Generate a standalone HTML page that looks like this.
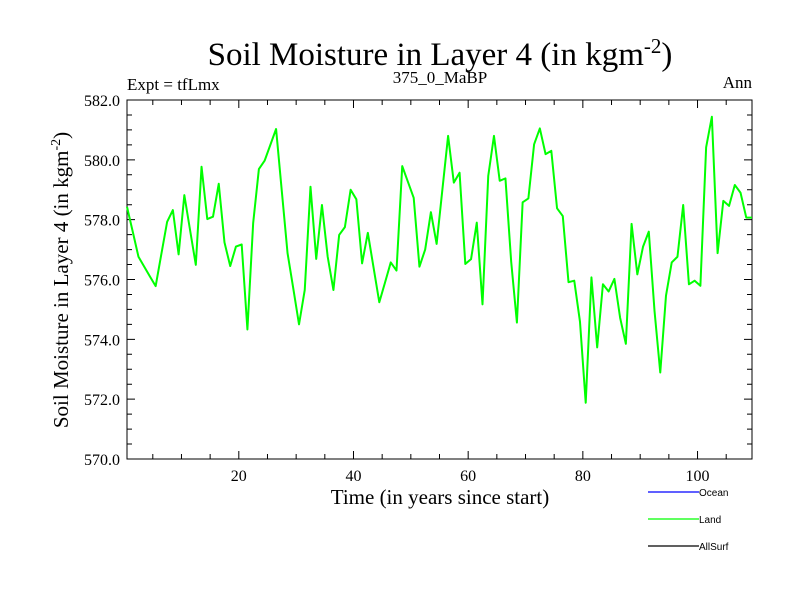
<!DOCTYPE html>
<html><head><meta charset="utf-8"><style>
body{margin:0;background:#fff}
svg text{font-family:"Liberation Serif",serif;fill:#000}
</style></head><body>
<svg id="chart" width="800" height="600" viewBox="0 0 800 600" xmlns="http://www.w3.org/2000/svg">
<rect width="800" height="600" fill="#fff"/>
<text x="440" y="65" font-size="33" text-anchor="middle">Soil Moisture in Layer 4 (in kgm<tspan dy="-12" font-size="21">-2</tspan><tspan dy="12">)</tspan></text>
<text x="127" y="90" font-size="17">Expt = tfLmx</text>
<text x="440" y="83" font-size="17" text-anchor="middle">375_0_MaBP</text>
<text x="752" y="88" font-size="17" text-anchor="end">Ann</text>
<text transform="translate(68,280) rotate(-90)" font-size="21" text-anchor="middle">Soil Moisture in Layer 4 (in kgm<tspan dy="-8" font-size="14">-2</tspan><tspan dy="8">)</tspan></text>
<text x="440" y="504" font-size="21" text-anchor="middle">Time (in years since start)</text>
<g id="axes"></g>
<g id="series"></g>
<g>
<line x1="648" y1="492" x2="699" y2="492" stroke="#0000ff" stroke-width="1.3"/>
<text x="699" y="496" font-size="10" style="font-family:'Liberation Sans',sans-serif">Ocean</text>
<line x1="648" y1="519" x2="699" y2="519" stroke="#00ff00" stroke-width="1.3"/>
<text x="699" y="523" font-size="10" style="font-family:'Liberation Sans',sans-serif">Land</text>
<line x1="648" y1="546" x2="699" y2="546" stroke="#000" stroke-width="1.3"/>
<text x="699" y="550" font-size="10" style="font-family:'Liberation Sans',sans-serif">AllSurf</text>
</g>
</svg>
<script>
const landValues = [578.43,577.6,576.76,576.43,576.1,575.78,576.86,577.93,578.32,576.84,
578.82,577.65,576.49,579.77,578.02,578.1,579.2,577.24,576.45,577.1,
577.17,574.33,577.88,579.69,579.97,580.5,581.03,578.95,576.88,575.7,
574.5,575.65,579.1,576.69,578.49,576.76,575.65,577.49,577.75,579.0,
578.68,576.54,577.56,576.4,575.24,575.9,576.57,576.3,579.79,579.26,
578.73,576.43,577.0,578.25,577.19,579.0,580.8,579.24,579.57,576.52,
576.68,577.9,575.17,579.46,580.8,579.3,579.38,576.6,574.56,578.58,
578.71,580.52,581.05,580.19,580.3,578.38,578.12,575.91,575.96,574.59,
571.88,576.07,573.73,575.84,575.6,576.02,574.72,573.85,577.86,576.17,
577.1,577.6,574.95,572.89,575.46,576.57,576.76,578.49,575.84,575.96,
575.79,580.42,581.44,576.88,578.63,578.46,579.16,578.9,578.07,578.07];
const yTickValues = [570,572,574,576,578,580,582];
const yTickLabels = ["570.0","572.0","574.0","576.0","578.0","580.0","582.0"];
const xTickValues = [20,40,60,80,100];
const xTickLabels = ["20","40","60","80","100"];
const timeStart = 0.5;

const L=127,R=752,T=100,B=459, xmin=0.5, xmax=109.5, ymin=570, ymax=582;
const sx=v=>L+(v-xmin)/(xmax-xmin)*(R-L);
const sy=v=>B-(v-ymin)/(ymax-ymin)*(B-T);
const NS="http://www.w3.org/2000/svg";
const axes=document.getElementById('axes'), series=document.getElementById('series');
function mk(tag,attrs,parent){const e=document.createElementNS(NS,tag);for(const k in attrs)e.setAttribute(k,attrs[k]);parent.appendChild(e);return e;}
const frame=mk('rect',{x:L,y:T,width:R-L,height:B-T,fill:'none',stroke:'#000','stroke-width':1},axes);


let d='';
for(let v=ymin;v<=ymax+1e-9;v+=0.5){const y=sy(v);const maj=Math.abs(v%2)<1e-9;const len=maj?8:5;d+=`M${L} ${y}h${len}M${R} ${y}h${-len}`;}
for(let v=5;v<=xmax;v+=5){const x=sx(v);const maj=v%20===0;const len=maj?8:5;d+=`M${x} ${B}v${-len}M${x} ${T}v${len}`;}
const ticks=mk('path',{d:d,stroke:'#000','stroke-width':1,fill:'none'},axes);


yTickValues.forEach((v,i)=>{const t=mk('text',{x:L-7,y:sy(v)+6,'font-size':16,'text-anchor':'end'},axes);t.textContent=yTickLabels[i];

});
xTickValues.forEach((v,i)=>{const t=mk('text',{x:sx(v),y:B+22,'font-size':16,'text-anchor':'middle'},axes);t.textContent=xTickLabels[i];

});
const pts=landValues.map((v,i)=>sx(timeStart+i).toFixed(2)+','+sy(v).toFixed(2)).join(' ');
const line=mk('polyline',{points:pts,fill:'none',stroke:'#00ff00','stroke-width':2,'stroke-linejoin':'round'},series);


</script>
</body></html>
